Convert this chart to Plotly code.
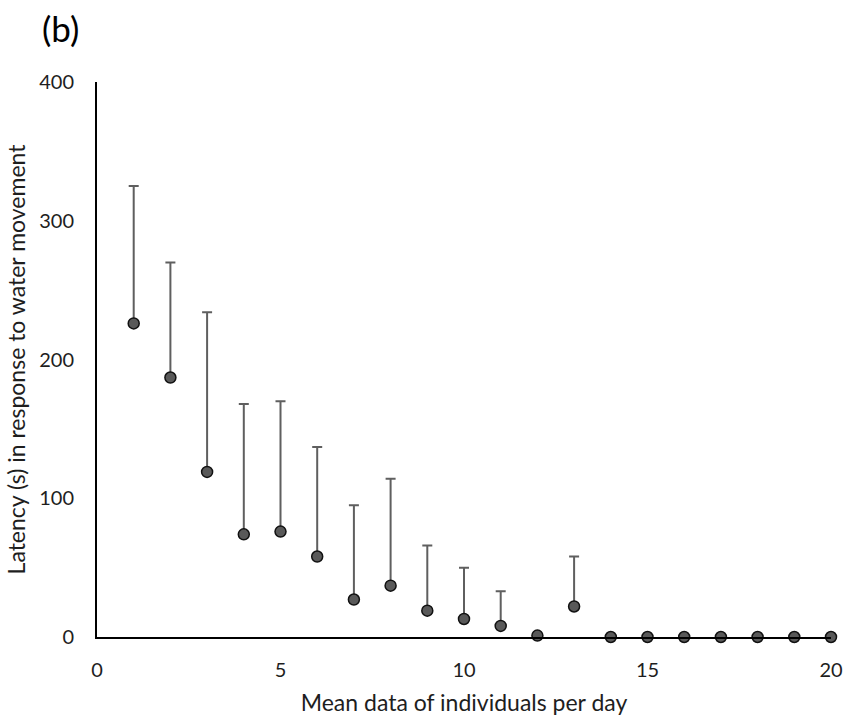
import plotly.graph_objects as go

x_vals = list(range(1, 21))
means = [226, 187, 119, 74, 76, 58, 27, 37, 19, 13, 8, 1, 22, 0, 0, 0, 0, 0, 0, 0]
upper_err = [99, 83, 115, 94, 94, 79, 68, 77, 47, 37, 25, 0, 36, 0, 0, 0, 0, 0, 0, 0]

font_family = "Lato, Open Sans, Noto Sans, sans-serif"
W, H = 847, 716
L, R, T, B = 97, 16, 82, 79

fig = go.Figure()
fig.add_trace(go.Scatter(
    x=x_vals, y=means, mode="markers",
    marker=dict(size=11, color="#595959", line=dict(color="#111111", width=1.5)),
    error_y=dict(type="data", symmetric=False, array=upper_err,
                 arrayminus=[0] * len(means), color="#5f5f5f", thickness=2, width=5),
    cliponaxis=False, showlegend=False,
))

fig.update_layout(
    width=W, height=H,
    margin=dict(l=L, r=R, t=T, b=B, autoexpand=False),
    paper_bgcolor="white", plot_bgcolor="white",
    font=dict(family=font_family, size=20, color="#1e1e1e"),
    xaxis=dict(range=[0, 20], tickvals=[0, 5, 10, 15, 20], showgrid=False, zeroline=False,
               showline=True, linecolor="black", linewidth=2, ticks="", ticklabelstandoff=14,
               automargin=False,
               title=dict(text="Mean data of individuals per day", font=dict(size=23), standoff=15)),
    yaxis=dict(range=[0, 400], tickvals=[0, 100, 200, 300, 400], showgrid=False, zeroline=False,
               showline=True, linecolor="black", linewidth=2, ticks="", ticklabelstandoff=17,
               automargin=False,
               title=dict(text="Latency (s) in response to water movement", font=dict(size=23), standoff=7)),
    annotations=[dict(text="(b)", xref="paper", yref="paper",
                      x=(60 - L) / (W - L - R), y=1 + (T - 28) / (H - T - B),
                      showarrow=False, font=dict(size=35, color="black"),
                      xanchor="center", yanchor="middle")],
)
fig.write_html("out.html")
